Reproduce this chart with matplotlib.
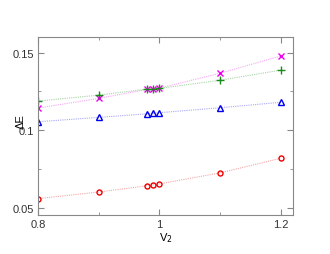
import matplotlib
matplotlib.use("Agg")
import matplotlib.pyplot as plt
from matplotlib.ticker import FixedLocator

plt.rcParams['font.family'] = ['Liberation Sans', 'DejaVu Sans']

v2 = [0.8, 0.9, 0.98, 0.99, 1.0, 1.1, 1.2]
red = [0.056, 0.0603, 0.0643, 0.0649, 0.0655, 0.0726, 0.082]
blue = [0.1055, 0.1083, 0.1106, 0.1109, 0.1113, 0.1145, 0.118]
green = [0.1188, 0.1226, 0.1265, 0.1267, 0.1269, 0.1322, 0.1387]
magenta = [0.1143, 0.1205, 0.1263, 0.1267, 0.1271, 0.1367, 0.1478]

fig = plt.figure(figsize=(3.3, 2.55), dpi=100)
ax = fig.add_axes([38/330, 1-216/255, (293-38)/330, (216-38)/255])

series = [
    (red, 'o', '#ee0000', '#f5a8a8', 3.6),
    (blue, '^', '#0000ee', '#a8a8f5', 4.2),
    (magenta, 'x', '#ee00ee', '#f5a8f5', 4.3),
    (green, '+', '#1a8a1a', '#a8d4a8', 5.5),
]
for ys, m, mc, lc, ms in series:
    ax.plot(v2, ys, ls=(0, (1, 1)), lw=0.8, color=lc, zorder=1)
    kw = dict(marker=m, ls='none', ms=ms, zorder=2)
    if m in 'o^':
        ax.plot(v2, ys, mfc='none', mec=mc, mew=1.0, **kw)
    else:
        ax.plot(v2, ys, color=mc, mew=1.0, **kw)

ax.set_xlim(0.8, 1.22)
ax.set_ylim(0.0455, 0.16)
ax.xaxis.set_major_locator(FixedLocator([0.8, 1.0, 1.2]))
ax.xaxis.set_minor_locator(FixedLocator([0.9, 1.1]))
ax.yaxis.set_major_locator(FixedLocator([0.05, 0.1, 0.15]))
ax.yaxis.set_minor_locator(FixedLocator([0.075, 0.125]))
ax.set_xticklabels(['0.8', '1', '1.2'])
ax.set_yticklabels(['0.05', '0.1', '0.15'])
ax.tick_params(which='both', direction='in', top=True, right=True, labelsize=8, colors='#333333', pad=3)
ax.tick_params(which='major', length=4, color='#888888')
ax.tick_params(which='minor', length=2, color='#888888')
for s in ax.spines.values():
    s.set_color('#888888')
    s.set_linewidth(0.8)
ax.set_xlabel('V$_2$', fontsize=8)
ax.xaxis.set_label_coords(0.5, -0.085)
ax.set_ylabel('ΔE', fontsize=8)
ax.yaxis.set_label_coords(-0.05, 0.53)

fig.savefig('out.png', dpi=100)
